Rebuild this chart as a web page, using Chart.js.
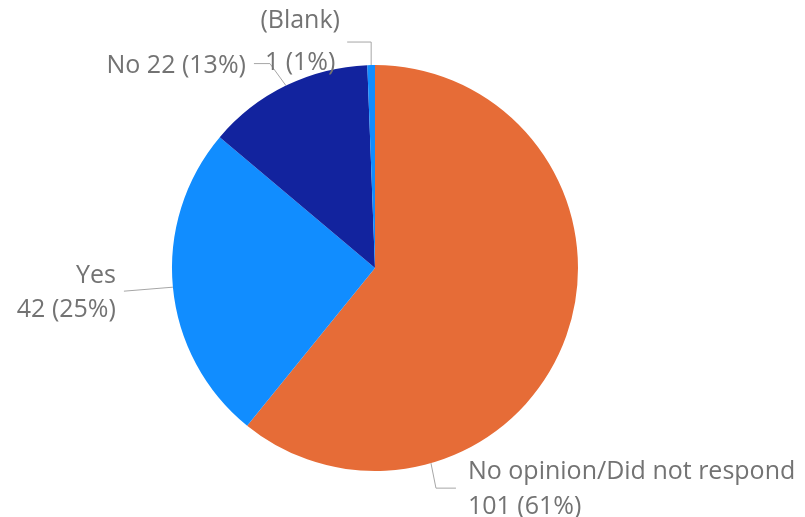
<!DOCTYPE html>
<html>
<head>
<meta charset="utf-8">
<script src="https://cdn.jsdelivr.net/npm/chart.js@4/dist/chart.umd.min.js"></script>
<style>
  html, body { margin: 0; padding: 0; background: #fff; }
  #wrap { width: 805px; height: 517px; }
</style>
</head>
<body>
<div id="wrap"><canvas id="pieChart"></canvas></div>
<script>
const categories = ['No opinion/Did not respond', 'Yes', 'No', '(Blank)'];
const counts = [101, 42, 22, 1];
const sliceColors = ['#E66C37', '#118DFF', '#12239E', '#118DFF'];

document.addEventListener('DOMContentLoaded', function () {
    const total = counts.reduce((a, b) => a + b, 0);
    const pct = v => Math.round(v / total * 100) + '%';

    // leader line + label layout for each slice (angle in degrees clockwise from top, null = slice middle)
    const labelLayout = [
        { angle: 164, path: [[5, 25], [25, 25]], align: 'left', dx: 12, lines: 2, lineGap: 35, first: -16 },
        { angle: null, path: [[-49, 4]], align: 'right', dx: -8, lines: 2, lineGap: 34, first: -15 },
        { angle: null, path: [[-16, -22], [-32, -22]], align: 'right', dx: -8, lines: 1, first: 2 },
        { angle: null, path: [[0, -23], [-24, -23]], align: 'center', dx: -47, lines: 2, lineGap: 42, first: -21 }
    ];

    const labelPlugin = {
        id: 'leaderLabels',
        afterDatasetsDraw(chart) {
            const ctx = chart.ctx;
            const arcs = chart.getDatasetMeta(0).data;
            ctx.save();
            ctx.font = '25px "Segoe UI", "Open Sans", sans-serif';
            ctx.textBaseline = 'middle';
            arcs.forEach((arc, i) => {
                const cfg = labelLayout[i];
                const r = arc.outerRadius;
                let a;
                if (cfg.angle === null) {
                    a = (arc.startAngle + arc.endAngle) / 2;
                } else {
                    a = cfg.angle * Math.PI / 180 - Math.PI / 2;
                }
                const px = arc.x + r * Math.cos(a);
                const py = arc.y + r * Math.sin(a);
                ctx.strokeStyle = '#A6A6A6';
                ctx.lineWidth = 1;
                ctx.beginPath();
                ctx.moveTo(px, py);
                let ex = px, ey = py;
                cfg.path.forEach(p => {
                    ex = px + p[0];
                    ey = py + p[1];
                    ctx.lineTo(ex, ey);
                });
                ctx.stroke();

                ctx.fillStyle = '#737373';
                ctx.textAlign = cfg.align;
                const tx = ex + cfg.dx;
                if (cfg.lines === 1) {
                    ctx.fillText(categories[i] + ' ' + counts[i] + ' (' + pct(counts[i]) + ')', tx, ey + cfg.first);
                } else {
                    ctx.fillText(categories[i], tx, ey + cfg.first);
                    ctx.fillText(counts[i] + ' (' + pct(counts[i]) + ')', tx, ey + cfg.first + cfg.lineGap);
                }
            });
            ctx.restore();
        }
    };

    const ctx = document.getElementById('pieChart').getContext('2d');
    const myChart = new Chart(ctx, {
        type: 'pie',
        data: {
            labels: categories,
            datasets: [{
                data: counts,
                backgroundColor: sliceColors,
                borderWidth: 0
            }]
        },
        options: {
            responsive: true,
            maintainAspectRatio: false,
            animation: false,
            layout: {
                padding: { left: 172, right: 227, top: 65, bottom: 46 }
            },
            plugins: {
                legend: { display: false },
                tooltip: { enabled: false }
            }
        },
        plugins: [labelPlugin]
    });
});
</script>
</body>
</html>
